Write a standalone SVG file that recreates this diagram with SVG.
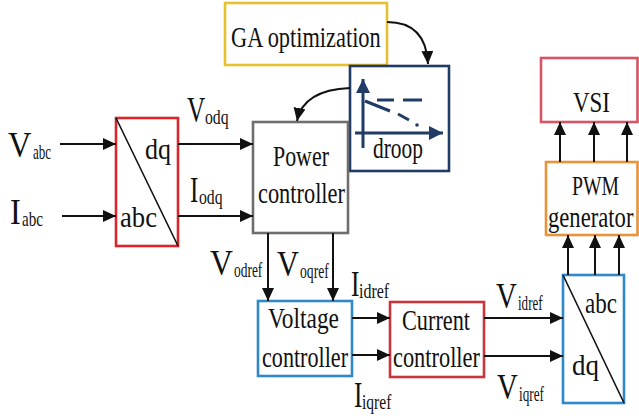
<svg xmlns="http://www.w3.org/2000/svg" width="639" height="416" viewBox="0 0 639 416">
<style>
text{font-family:"Liberation Serif","DejaVu Serif","Times New Roman",serif;fill:#111}
.big{font-size:30px}
.lbl{font-size:36px}
.sub{font-size:21px}
.box{fill:#fff;stroke-width:2.6}
.con{fill:none;stroke:#111;stroke-width:2}
</style>
<defs>
<marker id="ah" markerUnits="userSpaceOnUse" markerWidth="13" markerHeight="12" refX="13" refY="6" orient="auto">
<path d="M0,0 L13,6 L0,12 z" fill="#111"/>
</marker>
<marker id="nh" markerUnits="userSpaceOnUse" markerWidth="14" markerHeight="14" refX="14" refY="7" orient="auto">
<path d="M0,0 L14,7 L0,14 z" fill="#1f3b66"/>
</marker>
</defs>
<rect width="639" height="416" fill="#fff"/>

<g id="ga">
<rect class="box" x="225" y="3" width="162" height="62" stroke="#e5c12e"/>
<text class="big" transform="translate(231,47) scale(0.746,1)">GA optimization</text>
</g>

<g id="droop">
<rect class="box" x="350" y="66" width="99" height="105" stroke="#1f3b66"/>
<line x1="363" y1="148" x2="363" y2="79" stroke="#1f3b66" stroke-width="3" marker-end="url(#nh)"/>
<line x1="355" y1="133" x2="443" y2="133" stroke="#1f3b66" stroke-width="3" marker-end="url(#nh)"/>
<path d="M377,100 H394 M403,100 H422" stroke="#1f3b66" stroke-width="3" fill="none"/>
<path d="M365,101 L390,111 M398,114 L409,120" stroke="#1f3b66" stroke-width="3" fill="none"/>
<circle cx="417" cy="125" r="1.8" fill="#1f3b66"/>
<text class="big" transform="translate(373,158) scale(0.714,1)">droop</text>
</g>

<g id="abcdq1">
<rect class="box" x="116" y="118" width="62" height="128" stroke="#d9262c"/>
<line x1="116" y1="118" x2="178" y2="246" stroke="#111" stroke-width="1.6"/>
<text class="big" transform="translate(145,159) scale(0.867,1)">dq</text>
<text class="big" transform="translate(120,227) scale(0.889,1)">abc</text>
</g>

<g id="power">
<rect class="box" x="253" y="122" width="95" height="111" stroke="#6e6e6e"/>
<text class="big" transform="translate(273,166) scale(0.73,1)">Power</text>
<text class="big" transform="translate(258,203) scale(0.746,1)">controller</text>
</g>

<g id="vsi">
<rect class="box" x="541" y="58" width="96.5" height="64" stroke="#d65565"/>
<text class="big" transform="translate(573,112) scale(0.766,1)">VSI</text>
</g>

<g id="pwm">
<rect class="box" x="546" y="162" width="91.5" height="73" stroke="#e8923a"/>
<text style="font-size:28px" transform="translate(572,195) scale(0.703,1)">PWM</text>
<text style="font-size:29px" transform="translate(548,227) scale(0.781,1)">generator</text>
</g>

<g id="voltage">
<rect class="box" x="258" y="301" width="94" height="75" stroke="#2f88c8"/>
<text class="big" transform="translate(268,328) scale(0.779,1)">Voltage</text>
<text class="big" transform="translate(262,367) scale(0.738,1)">controller</text>
</g>

<g id="current">
<rect class="box" x="390" y="302" width="94" height="75" stroke="#c9353a"/>
<text class="big" transform="translate(402,330) scale(0.742,1)">Current</text>
<text class="big" transform="translate(393,367) scale(0.746,1)">controller</text>
</g>

<g id="abcdq2">
<rect class="box" x="563" y="275" width="61" height="128" stroke="#2f88c8"/>
<line x1="563" y1="275" x2="624" y2="403" stroke="#111" stroke-width="1.6"/>
<text class="big" transform="translate(585,313) scale(0.769,1)">abc</text>
<text class="big" transform="translate(572,375) scale(0.9,1)">dq</text>
</g>

<g id="connectors">
<line class="con" x1="60" y1="144" x2="116" y2="144" marker-end="url(#ah)"/>
<line class="con" x1="62" y1="216" x2="116" y2="216" marker-end="url(#ah)"/>
<line class="con" x1="178" y1="144" x2="253" y2="144" marker-end="url(#ah)"/>
<line class="con" x1="178" y1="216" x2="253" y2="216" marker-end="url(#ah)"/>
<path class="con" d="M387,22 Q426,22 428,64" marker-end="url(#ah)"/>
<path class="con" d="M350,88 Q303,90 297,121" marker-end="url(#ah)"/>
<line class="con" x1="268" y1="233" x2="268" y2="301" marker-end="url(#ah)"/>
<line class="con" x1="333" y1="233" x2="333" y2="301" marker-end="url(#ah)"/>
<line class="con" x1="352" y1="318" x2="390" y2="318" marker-end="url(#ah)"/>
<line class="con" x1="352" y1="355" x2="390" y2="355" marker-end="url(#ah)"/>
<line class="con" x1="484" y1="318" x2="563" y2="318" marker-end="url(#ah)"/>
<line class="con" x1="484" y1="356" x2="563" y2="356" marker-end="url(#ah)"/>
<line class="con" x1="568" y1="275" x2="568" y2="235" marker-end="url(#ah)"/>
<line class="con" x1="595" y1="275" x2="595" y2="235" marker-end="url(#ah)"/>
<line class="con" x1="619" y1="275" x2="619" y2="235" marker-end="url(#ah)"/>
<line class="con" x1="560" y1="162" x2="560" y2="122" marker-end="url(#ah)"/>
<line class="con" x1="594" y1="162" x2="594" y2="122" marker-end="url(#ah)"/>
<line class="con" x1="627" y1="162" x2="627" y2="122" marker-end="url(#ah)"/>
</g>

<g id="labels">
<text class="lbl" transform="translate(8,157) scale(0.9,1)">V</text>
<text class="sub" transform="translate(33,159) scale(0.62,1)">abc</text>
<text class="lbl" transform="translate(10,224) scale(0.9,1)">I</text>
<text class="sub" transform="translate(22,226) scale(0.72,1)">abc</text>
<text class="lbl" transform="translate(187,122) scale(0.7,1)">V</text>
<text class="sub" transform="translate(205,124) scale(0.75,1)">odq</text>
<text class="lbl" transform="translate(190,202) scale(0.7,1)">I</text>
<text class="sub" transform="translate(199,204) scale(0.75,1)">odq</text>
<text class="lbl" transform="translate(210,275) scale(0.88,1)">V</text>
<text class="sub" transform="translate(234,277) scale(0.64,1)">odref</text>
<text class="lbl" transform="translate(277,276) scale(0.84,1)">V</text>
<text class="sub" transform="translate(300,278) scale(0.65,1)">oqref</text>
<text class="lbl" transform="translate(351,296) scale(0.7,1)">I</text>
<text class="sub" transform="translate(359,298) scale(0.76,1)">idref</text>
<text class="lbl" transform="translate(354,407) scale(0.7,1)">I</text>
<text class="sub" transform="translate(362,409) scale(0.74,1)">iqref</text>
<text class="lbl" transform="translate(496,308) scale(0.8,1)">V</text>
<text class="sub" transform="translate(518,310) scale(0.62,1)">idref</text>
<text class="lbl" transform="translate(497,399) scale(0.8,1)">V</text>
<text class="sub" transform="translate(519,401) scale(0.63,1)">iqref</text>
</g>
</svg>
